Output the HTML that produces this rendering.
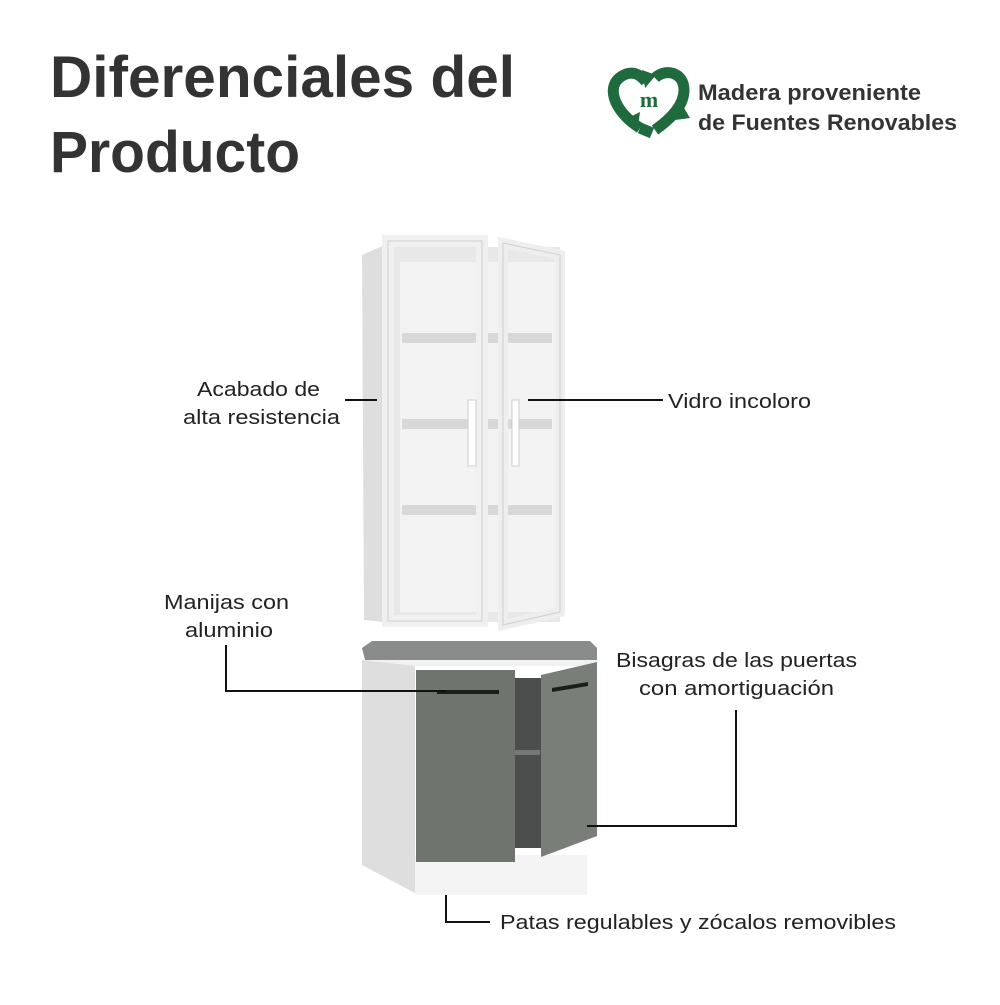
<!DOCTYPE html>
<html><head><meta charset="utf-8"><style>
body{margin:0;background:#fff;width:1000px;height:1000px;overflow:hidden;font-family:"Liberation Sans",sans-serif}
</style></head><body>
<svg width="1000" height="1000" viewBox="0 0 1000 1000" xmlns="http://www.w3.org/2000/svg" font-family="Liberation Sans, sans-serif">
<text x="50" y="97" font-size="58" font-weight="bold" fill="#333" textLength="465" lengthAdjust="spacingAndGlyphs">Diferenciales del</text>
<text x="50" y="172" font-size="58" font-weight="bold" fill="#333" textLength="250" lengthAdjust="spacingAndGlyphs">Producto</text>
<!-- logo -->
<g fill="none" stroke-width="11" stroke="#1f6b3e">
<path d="M640 128 C612 110 606 85 622 76 C632 70 640 74 646 82"/>
<path d="M655 78 C665 68 684 72 684 90 C684 105 672 118 655 130"/>
<path d="M640 128 L652 133"/>
</g>
<polygon points="642,70 656,75 645,88" fill="#1f6b3e"/>
<polygon points="684,108 690,118 675,120" fill="#1f6b3e"/>
<polygon points="628,118 640,112 638,126" fill="#1f6b3e"/>
<text x="649" y="107" font-size="22" font-weight="bold" fill="#1f6b3e" text-anchor="middle" font-family="Liberation Serif, serif">m</text>
<text x="698" y="100" font-size="22" font-weight="bold" fill="#333" textLength="223" lengthAdjust="spacingAndGlyphs">Madera proveniente</text>
<text x="698" y="130" font-size="22" font-weight="bold" fill="#333" textLength="259" lengthAdjust="spacingAndGlyphs">de Fuentes Renovables</text>

<!-- upper cabinet -->
<polygon points="362,255 385,245 385,622 364,620" fill="#dedede"/>
<rect x="385" y="247" width="175" height="375" fill="#e8e8e8"/>
<rect x="400" y="262" width="155" height="350" fill="#f3f3f3"/>
<g fill="#d8d8d8"><rect x="402" y="333" width="150" height="10"/><rect x="402" y="419" width="150" height="10"/><rect x="402" y="505" width="150" height="10"/></g>
<rect x="388" y="241" width="94" height="380" fill="none" stroke="#f0f0f0" stroke-width="12"/>
<rect x="388" y="241" width="94" height="380" fill="none" stroke="#cfcfcf" stroke-width="1"/>
<polygon points="503,243 560,255 560,612 503,625" fill="none" stroke="#eeeeee" stroke-width="10"/>
<polygon points="503,243 560,255 560,612 503,625" fill="none" stroke="#cfcfcf" stroke-width="1"/>
<rect x="468" y="400" width="8" height="66" fill="#fff" stroke="#ccc"/>
<rect x="512" y="400" width="7" height="66" fill="#fff" stroke="#ccc"/>

<!-- base cabinet -->
<polygon points="362,648 372,641 590,641 597,648 597,660 365,660" fill="#8a8b8b"/>
<rect x="362" y="660" width="235" height="6" fill="#f1f1f1"/>
<polygon points="362,660 415,666 415,893 362,865" fill="#dedede"/>
<rect x="415" y="855" width="172" height="40" fill="#f4f4f4"/>
<rect x="512" y="678" width="30" height="170" fill="#4c4e4e"/>
<rect x="514" y="750" width="26" height="5" fill="#777"/>
<rect x="416" y="670" width="99" height="192" fill="#70746f"/>
<polygon points="541,675 597,662 597,836 541,857" fill="#7a7e78"/>
<rect x="437" y="690" width="62" height="4" fill="#1c1c1c"/>
<polygon points="552,688 588,682 588,686 552,692" fill="#1c1c1c"/>

<!-- connectors -->
<g stroke="#111" stroke-width="2" fill="none">
<path d="M345 400 H377"/>
<path d="M528 400 H663"/>
<path d="M226 645 V691 H446"/>
<path d="M736 710 V826 H587"/>
<path d="M446 895 V922 H490"/>
</g>
<g font-size="20" fill="#222" lengthAdjust="spacingAndGlyphs">
<text x="197" y="396" textLength="123" lengthAdjust="spacingAndGlyphs">Acabado de</text>
<text x="183" y="424" textLength="157" lengthAdjust="spacingAndGlyphs">alta resistencia</text>
<text x="668" y="408" textLength="143" lengthAdjust="spacingAndGlyphs">Vidro incoloro</text>
<text x="164" y="609" textLength="125" lengthAdjust="spacingAndGlyphs">Manijas con</text>
<text x="185" y="637" textLength="88" lengthAdjust="spacingAndGlyphs">aluminio</text>
<text x="616" y="667" textLength="241" lengthAdjust="spacingAndGlyphs">Bisagras de las puertas</text>
<text x="639" y="695" textLength="195" lengthAdjust="spacingAndGlyphs">con amortiguación</text>
<text x="500" y="929" textLength="396" lengthAdjust="spacingAndGlyphs">Patas regulables y zócalos removibles</text>
</g>
</svg>
</body></html>
